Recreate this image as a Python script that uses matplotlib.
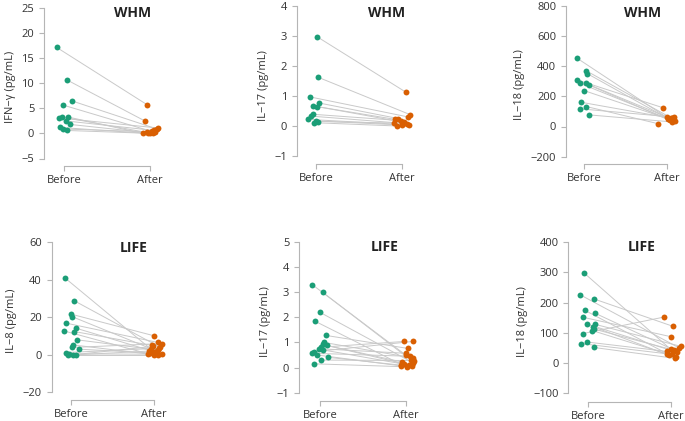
import numpy as np
import matplotlib
matplotlib.use("Agg")
import matplotlib.pyplot as plt

plt.rcParams['font.family'] = ['Open Sans', 'DejaVu Sans']

# ---- data (values, plus horizontal jitter of each dot)
ifng_whm_before = [17.2, 10.7, 6.5, 5.7, 3.1, 3.3, 3.3, 2.5, 1.8, 1.2, 0.9, 0.6]
ifng_whm_after = [5.7, 2.5, 0.9, 0.4, 1.1, 0.2, 0.0, 0.6, 0.1, 0.0, 0.3, 0.0]
ifng_whm_bjit = [-0.09, 0.03, 0.09, -0.02, -0.06, -0.03, 0.04, 0.02, 0.07, -0.05, -0.02, 0.03]
ifng_whm_ajit = [-0.03, -0.06, 0.08, 0.02, 0.09, -0.04, -0.08, 0.05, 0.0, -0.02, 0.06, 0.03]

il17_whm_before = [2.98, 1.63, 0.97, 0.77, 0.67, 0.65, 0.39, 0.33, 0.22, 0.17, 0.11, 0.15]
il17_whm_after = [1.13, 0.38, 0.30, 0.25, 0.22, 0.12, 0.18, 0.08, 0.05, 0.02, 0.0, 0.10]
il17_whm_bjit = [0.01, 0.02, -0.07, 0.03, -0.04, 0.01, -0.03, -0.06, -0.09, 0.0, -0.02, 0.02]
il17_whm_ajit = [0.04, 0.09, 0.07, -0.05, -0.08, 0.02, -0.02, 0.05, 0.0, 0.08, -0.06, -0.10]

il18_whm_before = [451, 368, 350, 308, 286, 286, 275, 238, 161, 117, 132, 77]
il18_whm_after = [60, 55, 48, 125, 50, 45, 40, 35, 55, 62, 18, 30]
il18_whm_bjit = [-0.08, 0.03, 0.04, -0.08, -0.05, 0.02, 0.06, 0.0, -0.04, -0.05, 0.03, 0.06]
il18_whm_ajit = [0.0, 0.06, 0.03, -0.05, 0.02, 0.08, 0.04, 0.1, 0.05, 0.09, -0.10, 0.07]

il8_life_before = [40.9, 28.8, 21.7, 20.4, 16.9, 12.8, 14.2, 12.4, 8.0, 5.3, 3.9, 3.0, 1.2, 0.5, 0.0, 0.0, 0.0]
il8_life_after = [3.0, 4.0, 10.1, 2.0, 6.6, 0.5, 1.5, 5.0, 2.5, 0.0, 6.0, 1.0, 3.5, 0.3, 4.5, 2.0, 0.0]
il8_life_bjit = [-0.07, 0.04, 0.0, 0.01, -0.06, -0.09, 0.06, 0.04, 0.07, 0.02, 0.01, 0.10, -0.06, -0.02, 0.02, 0.06, -0.04]
il8_life_ajit = [-0.04, 0.07, 0.0, 0.03, 0.04, -0.07, 0.01, -0.03, 0.05, 0.0, 0.09, -0.05, 0.06, 0.09, -0.01, -0.06, 0.05]

il17_life_before = [3.3, 3.0, 2.2, 1.85, 1.28, 1.0, 0.88, 0.81, 0.75, 0.70, 0.63, 0.57, 0.5, 0.41, 0.3, 0.15, 0.92]
il17_life_after = [0.5, 0.3, 0.2, 0.12, 0.76, 0.38, 0.15, 1.04, 0.57, 0.1, 1.04, 0.45, 0.07, 0.05, 0.28, 0.03, 0.22]
il17_life_bjit = [-0.09, 0.03, 0.0, -0.06, 0.07, 0.05, 0.08, 0.01, -0.01, 0.04, -0.07, -0.09, -0.03, 0.09, 0.01, -0.07, 0.03]
il17_life_ajit = [0.0, 0.06, 0.08, -0.05, 0.03, 0.09, -0.02, -0.02, 0.0, 0.04, 0.08, 0.05, -0.06, 0.07, 0.1, 0.02, -0.04]

il18_life_before = [298, 226, 212, 174, 165, 151, 129, 128, 120, 112, 107, 97, 69, 64, 51]
il18_life_after = [45, 50, 121, 30, 40, 87, 35, 55, 25, 42, 20, 152, 38, 28, 15]
il18_life_bjit = [-0.05, -0.10, 0.07, -0.04, 0.08, -0.06, -0.02, 0.08, 0.06, 0.07, 0.05, -0.07, -0.01, -0.09, 0.07]
il18_life_ajit = [0.0, 0.1, 0.03, -0.04, 0.06, 0.0, 0.08, 0.12, -0.02, 0.04, 0.07, -0.08, -0.05, 0.02, 0.05]

groups = ["Before", "After"]

W, H = 685, 421
GREEN = "#1b9e77"
ORANGE = "#d95f02"
AXIS_GREY = "#b5b5b5"
TEXT = "#333333"

# panel layout in pixels: spine x, Before x, After x, top tick y, bottom tick y, x-spine y, title x, title y
panels = [
    dict(before=ifng_whm_before, after=ifng_whm_after, bj=ifng_whm_bjit, aj=ifng_whm_ajit,
         ylabel="IFN\u2212\u03b3 (pg/mL)", title="WHM", yr=(-5, 25, 5),
         px=(44, 64.3, 150, 8.3, 158.5, 165.7, 133, 12.7)),
    dict(before=il17_whm_before, after=il17_whm_after, bj=il17_whm_bjit, aj=il17_whm_ajit,
         ylabel="IL\u221217 (pg/mL)", title="WHM", yr=(-1, 4, 1),
         px=(296.7, 316, 402.3, 6, 156, 164.3, 386.7, 13)),
    dict(before=il18_whm_before, after=il18_whm_after, bj=il18_whm_bjit, aj=il18_whm_ajit,
         ylabel="IL\u221218 (pg/mL)", title="WHM", yr=(-200, 800, 200),
         px=(566, 584, 666.7, 5.7, 156.7, 164, 642.7, 13)),
    dict(before=il8_life_before, after=il8_life_after, bj=il8_life_bjit, aj=il8_life_ajit,
         ylabel="IL\u22128 (pg/mL)", title="LIFE", yr=(-20, 60, 20),
         px=(51.7, 71, 154.3, 242.3, 392.3, 400, 133.3, 247.7)),
    dict(before=il17_life_before, after=il17_life_after, bj=il17_life_bjit, aj=il17_life_ajit,
         ylabel="IL\u221217 (pg/mL)", title="LIFE", yr=(-1, 5, 1),
         px=(299, 320, 405.7, 242, 392.7, 400.7, 385, 246.7)),
    dict(before=il18_life_before, after=il18_life_after, bj=il18_life_bjit, aj=il18_life_ajit,
         ylabel="IL\u221218 (pg/mL)", title="LIFE", yr=(-100, 400, 100),
         px=(568.3, 588.3, 670.7, 242.3, 393, 401.7, 641.7, 246.7)),
]

fig = plt.figure(figsize=(W / 100, H / 100), dpi=100)

for p in panels:
    x0, xb, xa, yt, yb, ys, tx, ty = p["px"]
    ybot, ytop, ystep = p["yr"]
    xr = xa + 14
    xpp = 1.0 / (xa - xb)               # data units per pixel (x)
    ypp = (ytop - ybot) / (yb - yt)     # data units per pixel (y)

    ax = fig.add_axes([x0 / W, 1 - ys / H, (xr - x0) / W, (ys - yt) / H])
    ax.set_xlim(1 - (xb - x0) * xpp, 2 + (xr - xa) * xpp)
    ax.set_ylim(ybot - (ys - yb) * ypp, ytop)
    ax.patch.set_alpha(0)

    b = np.array(p["before"], dtype=float)
    a = np.array(p["after"], dtype=float)
    bx = 1 + np.array(p["bj"])
    axx = 2 + np.array(p["aj"])

    for i in range(len(b)):
        ax.plot([bx[i], axx[i]], [b[i], a[i]], color="#c9c9c9", lw=0.7, zorder=1)
    ax.scatter(bx, b, s=18, color=GREEN, linewidths=0, zorder=3, clip_on=False)
    ax.scatter(axx, a, s=18, color=ORANGE, linewidths=0, zorder=3, clip_on=False)

    for side in ["top", "right"]:
        ax.spines[side].set_visible(False)
    ax.spines["left"].set_bounds(ybot, ytop)
    ax.spines["bottom"].set_bounds(1, 2)
    for side in ["left", "bottom"]:
        ax.spines[side].set_color(AXIS_GREY)
        ax.spines[side].set_linewidth(0.8)

    ax.set_yticks(np.arange(ybot, ytop + ystep / 2, ystep))
    ax.set_xticks([1, 2])
    ax.set_xticklabels(groups)
    ax.tick_params(axis="both", colors=AXIS_GREY, labelcolor=TEXT, labelsize=8,
                   length=3.5, width=0.8, direction="out")
    ax.tick_params(axis="x", pad=3)
    ax.set_ylabel(p["ylabel"], fontsize=8, color=TEXT, labelpad=4)

    ax.text(1 + (tx - xb) * xpp, ytop - (ty - yt) * ypp, p["title"],
            ha="center", va="center", fontsize=10, fontweight="bold", color="#222222")

fig.savefig("out.png", dpi=100)
